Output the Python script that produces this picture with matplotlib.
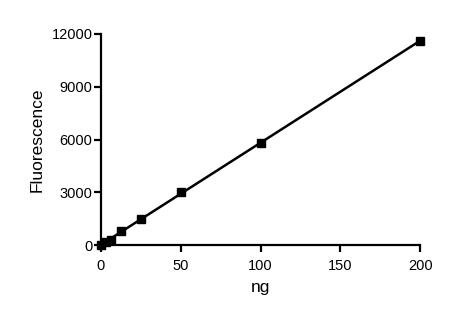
import numpy as np
import matplotlib
matplotlib.use("Agg")
import matplotlib.pyplot as plt

plt.rcParams['font.family'] = ['Liberation Sans', 'DejaVu Sans']

# standard curve
ng = [0, 3.125, 6.25, 12.5, 25, 50, 100, 200]
fluor = [0, 160, 320, 780, 1500, 3000, 5800, 11600]

fig = plt.figure(figsize=(4.69, 3.23), dpi=100)
ax = fig.add_axes([0.215, 0.241, 0.681, 0.654])

# linear fit line
slope, icpt = np.polyfit(ng, fluor, 1)
xf = np.array([min(ng), max(ng)])
ax.plot(xf, slope * xf + icpt, color='black', lw=1.8, clip_on=False)
ax.plot(ng, fluor, 's', color='black', ms=6, clip_on=False)

ax.set_xlim(0, 200)
ax.set_ylim(0, 12000)
ax.set_xticks([0, 50, 100, 150, 200])
ax.set_yticks([0, 3000, 6000, 9000, 12000])
for s in ['top', 'right']:
    ax.spines[s].set_visible(False)
for s in ['left', 'bottom']:
    ax.spines[s].set_linewidth(1.6)
ax.tick_params(width=1.6, length=5, labelsize=10.5, pad=1)
ax.tick_params(axis='x', pad=5)
ax.set_xlabel('ng', fontsize=12.5, labelpad=5)
ax.set_ylabel('Fluorescence', fontsize=12.5, labelpad=5)

fig.savefig('out.png', dpi=100)
